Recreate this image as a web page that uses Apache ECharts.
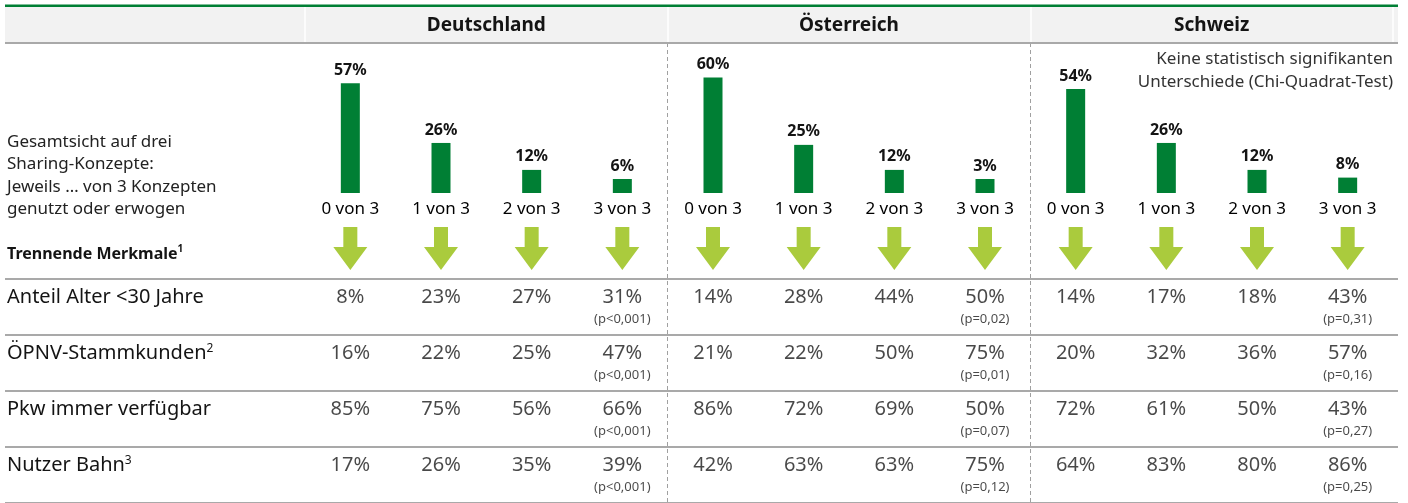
<!DOCTYPE html>
<html>
<head>
<meta charset="utf-8">
<script src="https://cdn.jsdelivr.net/npm/echarts@6/dist/echarts.min.js"></script>
<style>
html,body{margin:0;padding:0;background:#fff;}
#chart{width:1408px;height:503px;}
</style>
</head>
<body>
<div id="chart"></div>
<script>
// ---- data ----
const countries = ['Deutschland', 'Österreich', 'Schweiz'];
const categories = ['0 von 3', '1 von 3', '2 von 3', '3 von 3'];
const barsDE = [57, 26, 12, 6];
const barsAT = [60, 25, 12, 3];
const barsCH = [54, 26, 12, 8];
const rowLabels = ['Anteil Alter <30 Jahre', 'ÖPNV-Stammkunden²', 'Pkw immer verfügbar', 'Nutzer Bahn³'];
const valuesDE = [[8, 23, 27, 31], [16, 22, 25, 47], [85, 75, 56, 66], [17, 26, 35, 39]];
const valuesAT = [[14, 28, 44, 50], [21, 22, 50, 75], [86, 72, 69, 50], [42, 63, 63, 75]];
const valuesCH = [[14, 17, 18, 43], [20, 32, 36, 57], [72, 61, 50, 43], [64, 83, 80, 86]];
const pDE = ['(p<0,001)', '(p<0,001)', '(p<0,001)', '(p<0,001)'];
const pAT = ['(p=0,02)', '(p=0,01)', '(p=0,07)', '(p=0,12)'];
const pCH = ['(p=0,31)', '(p=0,16)', '(p=0,27)', '(p=0,25)'];
const arrowLabel = 'Trennende Merkmale¹';
const leftNote = 'Gesamtsicht auf drei\nSharing-Konzepte:\nJeweils … von 3 Konzepten\ngenutzt oder erwogen';
const rightNote = 'Keine statistisch signifikanten\nUnterschiede (Chi-Quadrat-Test)';

// ---- layout ----
const FONT = 'Noto Sans';
const X0 = 305, TOTAL_W = 1088, CW = TOTAL_W / 3;
const TXT = '#141414';
const GREEN = '#007f34', LIME = '#95be0c', LINE = '#a9a9a9';
const SUP = {'¹': '1', '²': '2', '³': '3'};

const barSets = [barsDE, barsAT, barsCH];
const valSets = [valuesDE, valuesAT, valuesCH];
const pSets = [pDE, pAT, pCH];
const colIdx = [];
countries.forEach((c, ci) => categories.forEach((k, ki) => colIdx.push(ci * 4 + ki)));

function supLabel(t) {
  const last = t.slice(-1);
  if (SUP[last]) return '{t|' + t.slice(0, -1) + '}{s|' + SUP[last] + '}';
  return '{t|' + t + '}';
}

const grids = [
  {left: X0, width: TOTAL_W, top: 7, height: 36},          // 0 header
  {left: X0, width: TOTAL_W, top: 43, height: 460},        // 1 frame separators
  {left: X0, width: CW, top: 0.5, height: 192.5},          // 2 bars DE
  {left: X0 + CW, width: CW, top: 0.5, height: 192.5},     // 3 bars AT
  {left: X0 + 2 * CW, width: CW, top: 0.5, height: 192.5}, // 4 bars CH
  {left: X0, width: TOTAL_W, top: 227, height: 43},        // 5 arrows
  {left: 5, width: 1393, top: 279, height: 228},           // 6 row labels + lines
  {left: X0, width: TOTAL_W, top: 279, height: 228}        // 7 table values
];

const xAxes = [
  {gridIndex: 0, type: 'category', data: countries, position: 'bottom',
   axisLine: {show: false}, axisTick: {show: false},
   axisLabel: {inside: true, margin: 8, fontSize: 19, fontWeight: 'bold', color: TXT, fontFamily: FONT},
   splitLine: {show: true, interval: 0, lineStyle: {color: '#ffffff', width: 1.5}}},
  {gridIndex: 1, type: 'value', min: 0, max: 3, interval: 1, axisLine: {show: false}, axisTick: {show: false},
   axisLabel: {show: false},
   splitLine: {show: true, showMinLine: false, showMaxLine: false, lineStyle: {color: '#a0a0a0', width: 1, type: [4, 3]}}},
];
const yAxes = [
  {gridIndex: 0, type: 'value', show: false},
  {gridIndex: 1, type: 'value', show: false},
];
const series = [];

[0, 1, 2].forEach(ci => {
  xAxes.push({gridIndex: 2 + ci, type: 'category', data: categories,
    axisLine: {show: false}, axisTick: {show: false},
    axisLabel: {margin: 8, fontSize: 17, color: '#000', fontFamily: FONT, interval: 0}});
  yAxes.push({gridIndex: 2 + ci, type: 'value', min: 0, max: 100, show: false});
  series.push({type: 'bar', xAxisIndex: 2 + ci, yAxisIndex: 2 + ci, data: barSets[ci], barWidth: 19, barMinHeight: 14,
    itemStyle: {color: GREEN},
    label: {show: true, position: 'top', distance: 5, formatter: '{c}%', fontSize: 16, fontWeight: 'bold', color: TXT, fontFamily: FONT}});
});

// arrows
xAxes.push({gridIndex: 5, type: 'category', data: colIdx, show: false});
yAxes.push({gridIndex: 5, type: 'category', data: [arrowLabel],
  axisLine: {show: false}, axisTick: {show: false},
  axisLabel: {align: 'left', margin: X0 - 7, color: TXT, fontFamily: FONT, padding: [12, 0, 0, 0],
    formatter: supLabel,
    rich: {
      t: {fontSize: 16, fontWeight: 'bold', color: TXT, fontFamily: FONT, lineHeight: 20},
      s: {fontSize: 10, fontWeight: 'bold', color: TXT, fontFamily: FONT, lineHeight: 10, verticalAlign: 'top'}
    }}});
series.push({type: 'scatter', xAxisIndex: 5, yAxisIndex: 5,
  symbol: 'path://M10,0 L24,0 L24,20 L34,20 L17,43 L0,20 L10,20 Z', symbolSize: [34, 43],
  itemStyle: {color: LIME}, data: colIdx.map(i => [i, 0])});

// row labels and lines
xAxes.push({gridIndex: 6, type: 'value', show: false});
yAxes.push({gridIndex: 6, type: 'category', inverse: true, data: rowLabels,
  axisLine: {show: false}, axisTick: {show: false},
  axisLabel: {inside: true, margin: 2, color: TXT, fontFamily: FONT, verticalAlign: 'bottom', interval: 0,
    formatter: supLabel,
    rich: {
      t: {fontSize: 20, color: TXT, fontFamily: FONT, lineHeight: 20},
      s: {fontSize: 12, color: TXT, fontFamily: FONT, lineHeight: 12, verticalAlign: 'top'}
    }},
  splitLine: {show: true, interval: 0, lineStyle: {color: LINE, width: 2}}});

// table values
xAxes.push({gridIndex: 7, type: 'category', data: colIdx, show: false});
yAxes.push({gridIndex: 7, type: 'category', inverse: true, data: rowLabels, show: false});
const valData = [], pData = [];
valSets.forEach((set, ci) => set.forEach((row, ri) => row.forEach((v, ki) => valData.push([ci * 4 + ki, ri, v]))));
pSets.forEach((set, ci) => set.forEach((p, ri) => pData.push([ci * 4 + 3, ri, p])));
series.push({type: 'scatter', xAxisIndex: 7, yAxisIndex: 7, symbolSize: 1, itemStyle: {color: 'rgba(0,0,0,0)'},
  data: valData,
  label: {show: true, position: 'inside', formatter: p => p.value[2] + '%', fontSize: 20, color: '#1a1a1a',
    fontFamily: FONT, verticalAlign: 'bottom', lineHeight: 20}});
series.push({type: 'scatter', xAxisIndex: 7, yAxisIndex: 7, symbolSize: 1, itemStyle: {color: 'rgba(0,0,0,0)'},
  data: pData,
  label: {show: true, position: 'inside', formatter: p => p.value[2], fontSize: 13, color: '#1a1a1a',
    fontFamily: FONT, verticalAlign: 'top', lineHeight: 24}});

const chart = echarts.init(document.getElementById('chart'), null, {renderer: 'canvas'});
chart.setOption({
  animation: false,
  backgroundColor: '#ffffff',
  textStyle: {fontFamily: FONT},
  grid: grids,
  xAxis: xAxes,
  yAxis: yAxes,
  series: series,
  graphic: [
    {type: 'rect', z: -10, shape: {x: 5, y: 7, width: 1393, height: 36}, style: {fill: '#f2f2f2'}},
    {type: 'rect', z: 10, shape: {x: 5, y: 4.5, width: 1393, height: 2.5}, style: {fill: GREEN}},
    {type: 'rect', z: 10, shape: {x: 5, y: 42, width: 1393, height: 2}, style: {fill: LINE}},
    {type: 'text', x: 7, y: 131, style: {text: leftNote, font: '17px "Noto Sans"', fill: '#222', lineHeight: 22.4}},
    {type: 'text', x: 1393, y: 48, style: {text: rightNote, font: '17px "Noto Sans"', fill: '#333', lineHeight: 23, align: 'right'}}
  ]
});
</script>
</body>
</html>
